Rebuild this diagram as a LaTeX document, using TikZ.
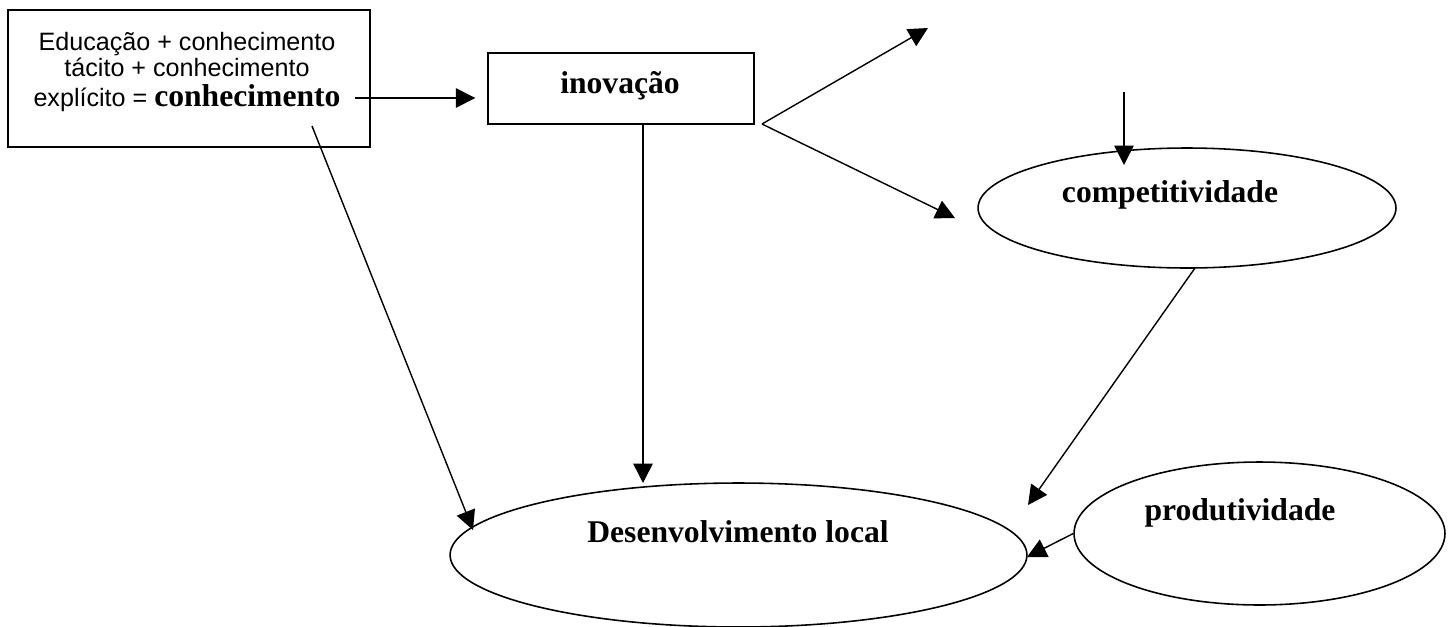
\documentclass[tikz,border=0pt]{standalone}
\usepackage{fontspec}
\setmainfont{Liberation Serif}
\newfontfamily\arialfont{Liberation Sans}
\usepackage{tikz}
\usetikzlibrary{shapes.geometric,arrows.meta,positioning}
\tikzset{caixa/.style={rectangle,draw,line width=0.9pt,inner sep=0pt},
         elip/.style={ellipse,draw,line width=0.9pt,inner sep=0pt},
         rotulo/.style={font=\fontsize{18}{20}\selectfont\bfseries,inner sep=0pt,anchor=base},
         seta/.style={-{Triangle[length=11pt,width=11pt]},line width=0.8pt}}

\begin{document}
\begin{tikzpicture}[x=0.02cm,y=-0.02cm]
        \useasboundingbox (0,0) rectangle (1453,626);
        % caixas e elipses
        \node[caixa,minimum width=7.24cm,minimum height=2.74cm] (conh) at (189,78.5) {};
        \node[caixa,minimum width=5.32cm,minimum height=1.42cm] (inov) at (621,88.5) {};
        \node[elip,minimum width=8.36cm,minimum height=2.4cm] (comp) at (1187,208) {};
        \node[elip,minimum width=7.42cm,minimum height=2.86cm] (prod) at (1259.5,533.5) {};
        \node[elip,minimum width=11.54cm,minimum height=2.88cm] (desl) at (738.5,555) {};

        % textos
        \node[inner sep=0pt,anchor=north,align=center,font=\arialfont\fontsize{14.3}{14.9}\selectfont] (tconh) at (187,32)
            {Educação + conhecimento\\ tácito + conhecimento\\[2pt] explícito = {\rmfamily\bfseries\fontsize{18}{20}\selectfont conhecimento}};
        \node[rotulo] (tinov) at (620,93) {inovação};
        \node[rotulo] (tcomp) at (1170,202) {competitividade};
        \node[rotulo] (tprod) at (1240,520) {produtividade};
        \node[rotulo] (tdesl) at (738,542) {Desenvolvimento local};

        % pontos das setas
        \coordinate (c1) at (355,98);
        \coordinate (c2) at (312,126);
        \coordinate (i1) at (643,124);
        \coordinate (f0) at (762,124);
        \coordinate (f1) at (928,28);
        \coordinate (f2) at (955,218);
        \coordinate (v0) at (1124,92);
        \coordinate (v1) at (1124,165);
        \coordinate (k1) at (1195,268);
        \coordinate (d1) at (473,530);
        \coordinate (d2) at (643,483);
        \coordinate (d3) at (1028,505);
        \coordinate (d4) at (1027,557);

        % conectores
        \draw [seta,shorten >=6.8pt] (c1) to (c1 -| inov.west);
        \draw [seta] (c2) to (d1);
        \draw [seta] (i1) to (d2);
        \draw [seta] (f0) to (f1);
        \draw [seta] (f0) to (f2);
        \draw [seta] (v0) to (v1);
        \draw [seta] (k1) to (d3);
        \draw [seta] (prod.west) to (d4);
\end{tikzpicture}
\end{document}
